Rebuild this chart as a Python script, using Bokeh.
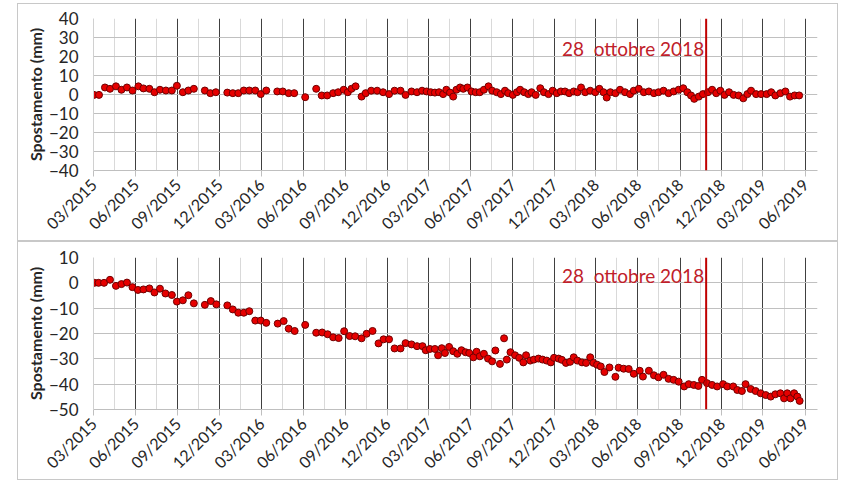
import pandas as pd
from bokeh.plotting import figure
from bokeh.layouts import column
from bokeh.models import FixedTicker, DatetimeTickFormatter, Span, Label, Range1d, ColumnDataSource
from bokeh.embed import file_html
from bokeh.resources import INLINE
from math import pi

BASE_DATE = "2015-03-01"

# Panel 1 : days since 2015-03-01 and displacement (mm)
top_days = [1, 12, 25, 36, 49, 61, 73, 85, 98, 109,
            122, 133, 145, 158, 171, 182, 195, 207, 219, 243,
            255, 267, 292, 304, 316, 328, 340, 353, 365, 377,
            401, 413, 426, 438, 462, 486, 498, 510, 523,
            534, 546, 555, 563, 572, 585, 594, 606, 619, 632,
            645, 657, 670, 681, 694, 706, 717, 727, 736, 745,
            754, 763, 770, 778, 785, 792, 800, 807, 816, 825,
            834, 843, 852, 862, 870, 880, 889, 898, 905, 915,
            924, 931, 940, 949, 956, 965, 975, 983, 993, 1002,
            1011, 1020, 1029, 1038, 1048, 1056, 1064,
            1073, 1084, 1095, 1104, 1113, 1120, 1128, 1139, 1149, 1160,
            1171, 1179, 1190, 1201, 1212, 1223, 1233, 1244, 1255, 1266,
            1277, 1287, 1296, 1304, 1311, 1321, 1330, 1341, 1350, 1359,
            1368, 1377, 1387, 1397, 1408, 1418, 1427, 1435, 1446, 1457,
            1469, 1479, 1488, 1499, 1510, 1520, 1530, 1540]
top_vals = [-0.2, -0.2, 3.7, 3.0, 4.3, 2.5, 3.7, 2.1, 4.3, 3.2,
            3.0, 1.2, 2.5, 2.1, 2.1, 4.6, 1.2, 2.1, 3.0, 2.1,
            0.7, 1.2, 1.0, 0.7, 0.7, 2.1, 2.1, 2.1, 0.2, 2.1,
            1.6, 1.6, 0.7, 0.7, -1.4, 3.0, -0.5, -0.5, 0.7,
            1.2, 2.5, 1.2, 3.0, 4.3, -1.1, 0.7, 2.0, 2.0, 1.2,
            0.2, 2.0, 2.0, -0.2, 1.6, 1.2, 2.0, 1.6, 1.2, 1.0,
            1.2, 0.2, 2.5, 1.0, -1.1, 2.5, 3.7, 3.0, 3.7, 1.6,
            1.2, 1.2, 2.5, 4.3, 2.0, 1.2, 0.2, 2.0, 0.7, -0.2,
            1.2, 2.5, 1.2, 0.2, 1.2, -0.2, 3.3, 1.2, 0.2, 2.0,
            0.7, 1.6, 1.6, 0.7, 1.6, 1.2, 3.7,
            1.2, 2.0, 1.2, 3.0, 1.2, -1.6, 1.2, 0.7, 2.5, 1.2,
            0.2, 2.0, 3.0, 1.2, 1.6, 0.7, 1.2, 2.0, 0.7, 1.6,
            2.5, 3.3, 1.2, -0.5, -2.3, -1.1, 0.2, 1.2, 2.5, 0.7,
            2.0, -0.2, 1.2, -0.2, -0.5, -2.0, 0.2, 2.0, 0.2, 0.2,
            0.2, 1.2, -0.5, 0.7, 1.6, -1.1, -0.5, -0.5]

# Panel 2
bot_days = [2, 11, 23, 36, 49, 61, 73, 85, 97, 109,
            122, 133, 145, 157, 171, 182, 195, 207, 219, 243,
            256, 268, 292, 304, 316, 328, 340, 353, 365, 377,
            402, 415, 426, 439, 462, 486, 499, 511, 523, 535,
            547, 559, 571, 585, 596, 609, 622, 633, 645, 657,
            670, 681, 694, 706, 718, 725, 734, 745, 752, 760,
            767, 776,
            785, 794, 803, 812, 820, 829, 836, 843, 852, 861,
            870, 877, 887, 896, 902, 910, 920, 929, 938, 944,
            953, 961, 971, 980, 989, 998, 1005, 1015, 1022, 1031,
            1040, 1048, 1056, 1066, 1075, 1084, 1091, 1099, 1107, 1115,
            1126, 1139, 1146, 1157, 1168,
            1179, 1192, 1199, 1212, 1223, 1233, 1244, 1255, 1266, 1277,
            1289, 1299, 1310, 1320, 1328, 1339, 1350, 1361, 1374, 1383,
            1396, 1405, 1415, 1423, 1434, 1445, 1456, 1467, 1478, 1488,
            1499, 1507, 1514, 1521, 1529, 1536, 1541]
bot_vals = [0.0, 0.0, 0.0, 1.2, -1.2, -0.5, 0.1, -1.7, -2.8, -2.6,
            -2.2, -3.8, -2.3, -4.2, -4.8, -7.4, -6.9, -4.9, -8.1, -8.7,
            -7.2, -8.5, -8.9, -10.5, -11.8, -11.8, -11.2, -14.9, -14.9, -15.8,
            -16.1, -15.1, -18.1, -19.0, -16.6, -19.7, -19.6, -20.3, -21.5, -21.8,
            -19.1, -21.0, -21.1, -21.9, -20.1, -19.0, -23.9, -22.3, -22.3, -25.9,
            -25.9, -23.8, -24.3, -25.0, -25.0, -26.6, -26.1, -26.1, -28.6, -25.8,
            -27.7, -25.3,
            -27.0, -28.0, -26.6, -27.4, -27.7, -29.4, -27.2, -29.0, -28.0, -29.9,
            -31.0, -26.7, -32.0, -21.9, -30.3, -27.4, -28.6, -29.6, -31.4, -28.6,
            -30.7, -30.3, -29.9, -30.3, -30.7, -31.4, -29.6, -29.9, -30.4, -31.6,
            -31.2, -29.4, -30.7, -31.4, -31.6, -29.4, -31.6, -32.3, -33.0, -35.2,
            -33.4, -37.1, -33.5, -33.9, -34.0,
            -35.9, -34.7, -37.0, -34.7, -36.5, -37.3, -36.3, -37.9, -38.3, -39.0,
            -40.9, -40.0, -40.3, -40.7, -38.3, -39.6, -40.3, -40.9, -40.0, -40.9,
            -40.9, -42.3, -42.7, -40.0, -41.9, -42.7, -43.6, -44.3, -44.9, -44.0,
            -43.6, -45.6, -43.6, -45.6, -43.6, -44.9, -46.6]

tick_dates = ["2015-03-01", "2015-06-01", "2015-09-01", "2015-12-01",
              "2016-03-01", "2016-06-01", "2016-09-01", "2016-12-01",
              "2017-03-01", "2017-06-01", "2017-09-01", "2017-12-01",
              "2018-03-01", "2018-06-01", "2018-09-01", "2018-12-01",
              "2019-03-01", "2019-06-01"]
x_end_date = "2019-06-28"
event_date = "2018-10-28"
event_label = "28\u00a0 ottobre 2018"
y_label = "Spostamento (mm)"
panel_names = ["1", "2"]
top_yrange = (-40, 40)
bot_yrange = (-50, 10)

FONT = "Lato"
RED = "#c00000"


def ms(d):
    return pd.Timestamp(d).value / 1e6


base = pd.Timestamp(BASE_DATE)
major = [ms(d) for d in tick_dates]
minor = [(a + b) / 2 for a, b in zip(major[:-1], major[1:])]


def panel(days, vals, yr, height, border_top, border_bottom, name, name_y, ev_y):
    dates = base + pd.to_timedelta(days, unit="D")
    src = ColumnDataSource(dict(x=dates, y=vals))
    p = figure(width=821, height=height, x_axis_type="datetime",
               x_range=Range1d(ms(BASE_DATE), ms(x_end_date)),
               y_range=Range1d(*yr), output_backend="svg",
               toolbar_location=None,
               min_border_left=75, min_border_right=22,
               min_border_top=border_top, min_border_bottom=border_bottom,
               styles={"border": "1px solid #c8c8c8"})
    p.outline_line_color = None
    p.xaxis.ticker = FixedTicker(ticks=major, minor_ticks=minor)
    p.xaxis.formatter = DatetimeTickFormatter(days="%m/%Y", months="%m/%Y", years="%m/%Y")
    p.xaxis.major_label_orientation = pi / 4
    p.xaxis.major_label_text_font = FONT
    p.xaxis.major_label_text_font_size = "16px"
    p.xaxis.major_label_text_color = "#262626"
    p.xaxis.axis_line_color = "#bfbfbf"
    p.xaxis.major_tick_line_color = "#bfbfbf"
    p.xaxis.major_tick_out = 6
    p.xaxis.major_tick_in = 0
    p.xaxis.minor_tick_line_color = None
    p.xaxis.major_label_standoff = 5

    p.yaxis.ticker = FixedTicker(ticks=list(range(yr[0], yr[1] + 1, 10)))
    p.yaxis.major_label_text_font = FONT
    p.yaxis.major_label_text_font_size = "17px"
    p.yaxis.major_label_text_color = "#262626"
    p.yaxis.axis_line_color = "#d0d0d0"
    p.yaxis.major_tick_line_color = None
    p.yaxis.major_tick_out = 0
    p.yaxis.major_tick_in = 0
    p.yaxis.minor_tick_line_color = None
    p.yaxis.minor_tick_out = 0
    p.yaxis.major_label_standoff = 15
    p.yaxis.axis_label = y_label
    p.yaxis.axis_label_text_font = FONT
    p.yaxis.axis_label_text_font_style = "bold"
    p.yaxis.axis_label_text_font_size = "16px"
    p.yaxis.axis_label_text_color = "#262626"
    p.yaxis.axis_label_standoff = 1

    p.xgrid.grid_line_color = "#404040"
    p.xgrid.grid_line_width = 1
    p.xgrid.minor_grid_line_color = "#d9d9d9"
    p.ygrid.grid_line_color = "#c0c0c0"

    p.add_layout(Span(location=ms(event_date), dimension="height",
                      line_color=RED, line_width=2))
    p.add_layout(Label(x=ms(event_date), y=ev_y, text=event_label,
                       text_align="right", text_baseline="middle",
                       x_offset=-2, text_color="#c0202a",
                       text_font=FONT, text_font_size="19px"))
    p.scatter("x", "y", source=src, size=7, fill_color="#e60000",
              line_color="#700000", line_width=1)
    p.add_layout(Label(x=ms("2019-07-15"), y=name_y, text=name,
                       text_align="center", text_baseline="middle",
                       text_font=FONT, text_font_size="25px",
                       text_color="#000000"))
    return p


p1 = panel(top_days, top_vals, top_yrange, 238, 14, 72, panel_names[0], 36.8, 24)
p2 = panel(bot_days, bot_vals, bot_yrange, 239, 15, 72, panel_names[1], 7.7, 3)

layout = column(p1, p2, spacing=0,
                styles={"margin-left": "17px", "margin-top": "3px"})

open("out.html", "w").write(file_html(layout, INLINE))
